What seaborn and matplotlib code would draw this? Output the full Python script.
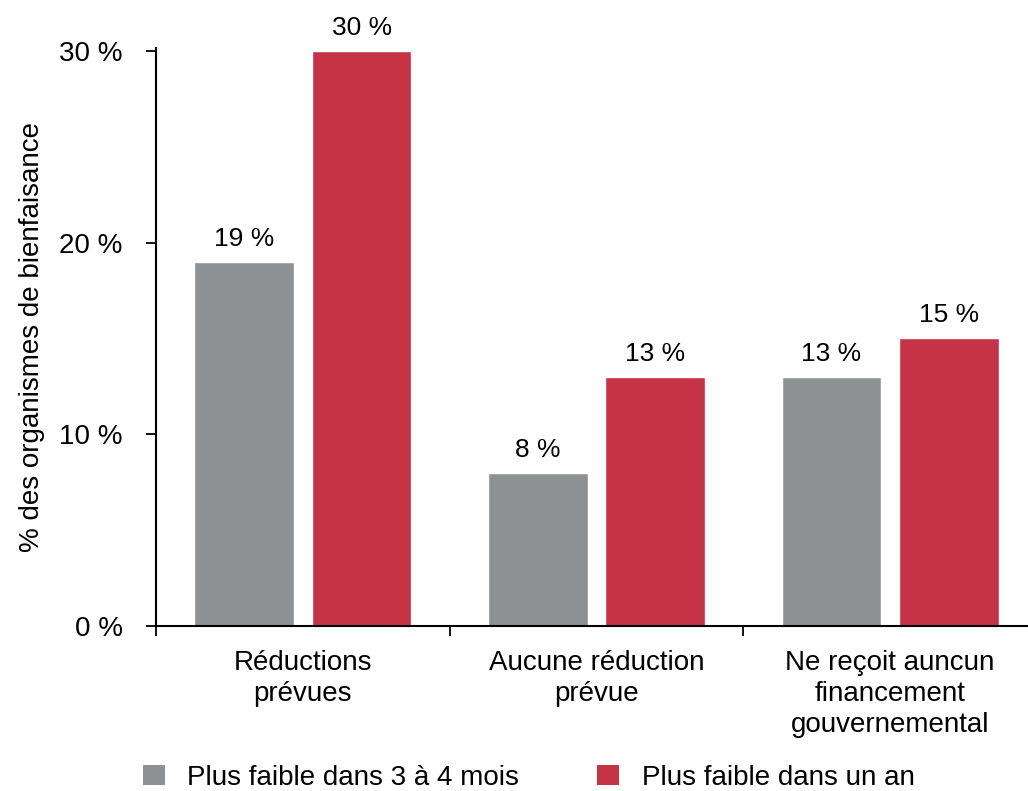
import matplotlib
matplotlib.use("Agg")
import matplotlib.pyplot as plt
import seaborn as sns
import pandas as pd
from matplotlib.patches import Patch
from matplotlib.ticker import FixedLocator

categories = ["Réductions\nprévues", "Aucune réduction\nprévue", "Ne reçoit auncun\nfinancement\ngouvernemental"]
series = ["Plus faible dans 3 à 4 mois", "Plus faible dans un an"]
short_term = [19, 8, 13]
one_year = [30, 13, 15]
colors = ["#8e9194", "#c73346"]
yticks = [0, 10, 20, 30]

df = pd.DataFrame({
    "cat": categories * 2,
    "serie": [series[0]] * 3 + [series[1]] * 3,
    "val": short_term + one_year,
})

sns.set_style("white")
plt.rcParams["font.family"] = ["Liberation Sans", "DejaVu Sans"]
plt.rcParams["text.color"] = "black"
plt.rcParams["axes.labelcolor"] = "black"
plt.rcParams["xtick.color"] = "black"
plt.rcParams["ytick.color"] = "black"

fig = plt.figure(figsize=(10.28, 7.91), dpi=100)
ax = fig.add_axes([156 / 1028, 1 - 626 / 791, (1037 - 156) / 1028, (626 - 48) / 791])

sns.barplot(data=df, x="cat", y="val", hue="serie", palette=colors,
            width=0.8, gap=0.15, ax=ax, legend=False, saturation=1)

for cont in ax.containers:
    ax.bar_label(cont, labels=[f"{v:.0f} %" for v in cont.datavalues],
                 padding=8, fontsize=19)

ax.set_xlim(-0.5, 2.5)
ax.set_ylim(0, 30.15)
ax.set_yticks(yticks)
ax.set_yticklabels([f"{t} %" for t in yticks], fontsize=20)
ax.tick_params(axis="y", direction="out", length=7, width=1.3, pad=17, left=True)

ax.xaxis.set_major_locator(FixedLocator([-0.5, 0.5, 1.5, 2.5]))
ax.xaxis.set_minor_locator(FixedLocator([0, 1, 2]))
ax.set_xticklabels([], minor=False)
ax.set_xticklabels(categories, minor=True, fontsize=20, linespacing=1.25)
ax.tick_params(axis="x", which="minor", length=0, pad=17)
ax.tick_params(axis="x", which="major", direction="out", length=7, width=1.3, bottom=True)

ax.set_xlabel("")
ax.set_ylabel("% des organismes de bienfaisance", fontsize=20, labelpad=10)

for s in ["top", "right"]:
    ax.spines[s].set_visible(False)
for s in ["left", "bottom"]:
    ax.spines[s].set_color("black")
    ax.spines[s].set_linewidth(1.5)

handles = [Patch(facecolor=c, edgecolor="none") for c in colors]
fig.legend(handles, series, loc="lower left", bbox_to_anchor=(118 / 1028, -0.031),
           ncol=2, frameon=False, fontsize=20, handlelength=0.8, handleheight=0.72,
           handletextpad=0.8, columnspacing=2.8)

fig.savefig("out.png", dpi=100)
